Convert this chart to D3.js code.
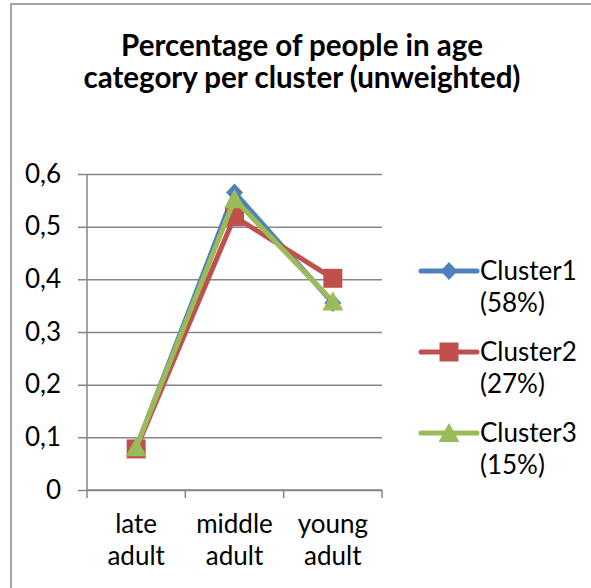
<!DOCTYPE html>
<html>
<head>
<meta charset="utf-8">
<script src="https://cdn.jsdelivr.net/npm/d3@7"></script>
<style>
  html, body { margin: 0; padding: 0; background: #fff; }
  svg { display: block; }
  text { font-family: Lato, sans-serif; fill: #000; }
</style>
</head>
<body>
<script>
// ---- data ----
const categories = [["late", "adult"], ["middle", "adult"], ["young", "adult"]];
const categoryKeys = ["late adult", "middle adult", "young adult"];
const seriesNames = ["Cluster1", "Cluster2", "Cluster3"];
const seriesShares = ["(58%)", "(27%)", "(15%)"];
const cluster1 = [0.080, 0.565, 0.355];
const cluster2 = [0.078, 0.519, 0.402];
const cluster3 = [0.081, 0.552, 0.358];
const yTicks = [0, 0.1, 0.2, 0.3, 0.4, 0.5, 0.6];
const yTickLabels = ["0", "0,1", "0,2", "0,3", "0,4", "0,5", "0,6"];
const titleLines = ["Percentage of people in age", "category per cluster (unweighted)"];

// ---- styles ----
const colors = ["#4F81BD", "#C0504D", "#9BBB59"];
const markers = ["diamond", "square", "triangle"];
const W = 591, H = 588;
const plot = { left: 87, right: 382, top: 174, bottom: 490 };
const bodySize = 26, titleSize = 29.5;

const svg = d3.select("body").append("svg").attr("width", W).attr("height", H);

// outer frame
svg.append("rect")
  .attr("x", 11).attr("y", 4).attr("width", 700).attr("height", 700)
  .attr("fill", "none").attr("stroke", "#888").attr("stroke-width", 1.5);

// title (one text, two lines)
svg.append("text")
  .attr("text-anchor", "middle")
  .attr("font-weight", "bold")
  .attr("font-size", titleSize)
  .selectAll("tspan").data(titleLines).join("tspan")
  .attr("x", 302).attr("y", (d, i) => 56 + i * 32)
  .text(d => d);

// scales
const x = d3.scaleBand().domain(categoryKeys).range([plot.left, plot.right]).padding(0);
const y = d3.scaleLinear().domain([0, 0.6]).range([plot.bottom, plot.top]);

const gridColor = "#868686";

// gridlines + y ticks
const yAxis = d3.axisLeft(y).tickValues(yTicks)
  .tickSize(-(plot.right - plot.left))
  .tickFormat((d, i) => yTickLabels[i]);
const gy = svg.append("g").attr("transform", `translate(${plot.left},0)`).call(yAxis);
gy.select(".domain").remove();
gy.selectAll(".tick line").attr("stroke", gridColor).attr("stroke-width", 1.5)
  .attr("x1", -9);
gy.selectAll(".tick text").attr("x", -26).attr("font-size", bodySize)
  .attr("font-family", "Lato, sans-serif").attr("fill", "#000");

// y axis line
svg.append("line")
  .attr("x1", plot.left).attr("x2", plot.left)
  .attr("y1", y(0.6)).attr("y2", y(0))
  .attr("stroke", gridColor).attr("stroke-width", 1.5);

// x axis line and ticks at category boundaries
const gx = svg.append("g");
gx.append("line")
  .attr("x1", plot.left).attr("x2", plot.right)
  .attr("y1", y(0)).attr("y2", y(0))
  .attr("stroke", gridColor).attr("stroke-width", 1.5);
const boundaries = categoryKeys.map(k => x(k)).concat([x(categoryKeys[categoryKeys.length - 1]) + x.bandwidth()]);
gx.selectAll("line.tk").data(boundaries).join("line").attr("class", "tk")
  .attr("x1", d => d).attr("x2", d => d)
  .attr("y1", y(0)).attr("y2", y(0) + 8)
  .attr("stroke", gridColor).attr("stroke-width", 1.5);

// x labels
const xl = svg.append("g").selectAll("text").data(categories).join("text")
  .attr("text-anchor", "middle")
  .attr("font-size", bodySize);
xl.each(function (d, i) {
  const cx = x(categoryKeys[i]) + x.bandwidth() / 2;
  d3.select(this).selectAll("tspan").data(d).join("tspan")
    .attr("x", cx).attr("y", (t, j) => 533 + j * 32).text(t => t);
});

// markers
function markerPath(type) {
  if (type === "diamond") return "M0,-9L8.5,0L0,9L-8.5,0Z";
  if (type === "square") return "M-9.5,-9.5H9.5V9.5H-9.5Z";
  return "M0,-10L10.5,9L-10.5,9Z";
}

const allSeries = [cluster1, cluster2, cluster3];
const line = d3.line()
  .x((d, i) => x(categoryKeys[i]) + x.bandwidth() / 2)
  .y(d => y(d));

allSeries.forEach((vals, s) => {
  const g = svg.append("g");
  g.append("path").datum(vals)
    .attr("d", line)
    .attr("fill", "none")
    .attr("stroke", colors[s])
    .attr("stroke-width", 5)
    .attr("stroke-linejoin", "round")
    .attr("stroke-linecap", "round");
  g.selectAll("path.m").data(vals).join("path").attr("class", "m")
    .attr("transform", (d, i) => `translate(${x(categoryKeys[i]) + x.bandwidth() / 2},${y(d)})`)
    .attr("d", markerPath(markers[s]))
    .attr("fill", colors[s]);
});

// legend
const lg = svg.append("g");
seriesNames.forEach((name, s) => {
  const cy = 271 + s * 81;
  lg.append("line")
    .attr("x1", 421).attr("x2", 477).attr("y1", cy).attr("y2", cy)
    .attr("stroke", colors[s]).attr("stroke-width", 5).attr("stroke-linecap", "round");
  lg.append("path")
    .attr("transform", `translate(449,${cy})`)
    .attr("d", markerPath(markers[s]))
    .attr("fill", colors[s]);
  lg.append("text").attr("x", 480).attr("y", cy + 9).attr("font-size", bodySize).text(name);
  lg.append("text").attr("x", 480).attr("y", cy + 41).attr("font-size", bodySize).text(seriesShares[s]);
});
</script>
</body>
</html>
